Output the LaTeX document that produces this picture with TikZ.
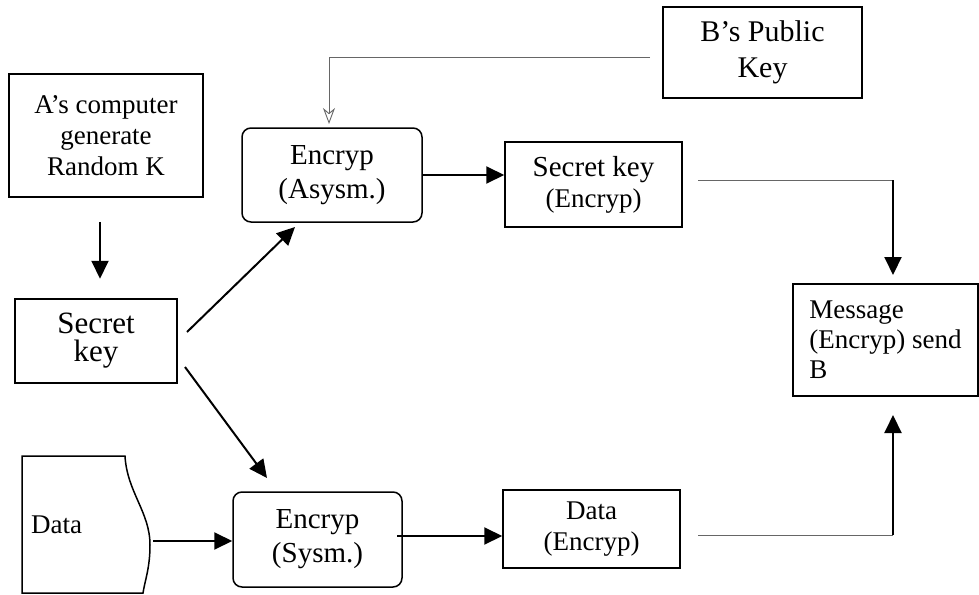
\documentclass[tikz,border=0pt]{standalone}
\usepackage{fontspec}
\setmainfont{Liberation Serif}
\usetikzlibrary{arrows.meta}
\tikzset{
  box/.style={draw, line width=1.5pt, inner sep=0pt, align=center, font=\fontsize{29}{34}\selectfont},
  rbox/.style={box, rounded corners=9pt},
  arr/.style={line width=2pt, -{Triangle[length=18pt,width=17pt]}},
  thinline/.style={line width=0.9pt, draw=black!60},
}
\begin{document}
\begin{tikzpicture}[x=1pt,y=-1pt]
\useasboundingbox (0,0) rectangle (979,594);
% nodes
\node[box, minimum width=194, minimum height=123, font=\fontsize{27}{31}\selectfont] (A) at (106,135.5) {A’s computer\\generate\\Random K};
\node[box, minimum width=162, minimum height=84, font=\fontsize{31}{28}\selectfont] (sk) at (96,341) {Secret\\key};
\node[rbox, minimum width=180, minimum height=94] (ea) at (332,175) {Encryp\\(Asysm.)};
\node[box, minimum width=199, minimum height=91, font=\fontsize{30}{36}\selectfont] (B) at (762.5,52.5) {\raisebox{-6pt}{B’s Public}\\\raisebox{-6pt}{Key}};
\node[box, minimum width=177, minimum height=85] (ske) at (593.5,184.5) {Secret key\\[-3pt]{\fontsize{27}{30}\selectfont(Encryp)}};
\node[box, minimum width=185, minimum height=112, align=left, font=\fontsize{27}{30}\selectfont] (msg) at (885.5,340) {Message\\(Encryp) send\\B};
\node[rbox, minimum width=169, minimum height=95] (es) at (317.5,539.5) {Encryp\\(Sysm.)};
\node[box, minimum width=177, minimum height=78, font=\fontsize{27}{31}\selectfont] (de) at (591.5,529) {Data\\(Encryp)};
% data document shape
\draw[line width=1.5pt] (22,456) -- (125,456) .. controls (127,492) and (150,512) .. (150,545)
   .. controls (150,568) and (145,580) .. (143,593) -- (22,593) -- cycle;
\node[font=\fontsize{27}{30}\selectfont, anchor=west, inner sep=0pt] (data) at (31,525) {Data};
% coordinates
\coordinate (dataR) at (153,541);
\coordinate (d1s) at (187,332);
\coordinate (d1e) at (295,227);
\coordinate (d2s) at (185,367);
\coordinate (d2e) at (267,478);
\coordinate (bL) at (650,57);
\coordinate (bC) at (329,57);
\coordinate (bT) at (329,124);
\coordinate (c1) at (698,180);
\coordinate (c2) at (893,180);
\coordinate (c3) at (698,535);
\coordinate (c4) at (893,535);
% connectors
\draw[arr] (A.south) ++(-6,24) coordinate (a1) -- ++(0,57);
\draw[arr] (d1s) -- (d1e);
\draw[arr] (d2s) -- (d2e);
\draw[thinline, -{Stealth[open,length=16pt,width=12pt,inset=5pt]}] (bL) -- (bC) -- (bT);
\draw[arr] (ea.east) -- (ea.east -| ske.west);
\draw[thinline] (c1) -- (c2);
\draw[arr] (c2) -- (893,275);
\draw[arr] (dataR) -- (es.west |- dataR);
\draw[arr] (397,536) -- (de.west |- 0,536);
\draw[thinline] (c3) -- (c4);
\draw[arr] (c4) -- (893,415);
\end{tikzpicture}
\end{document}
